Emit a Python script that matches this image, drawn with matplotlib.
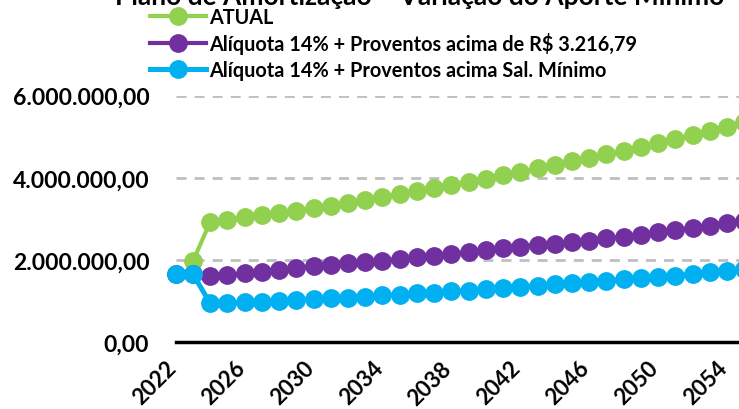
import matplotlib
matplotlib.use("Agg")
import matplotlib.pyplot as plt
from matplotlib.ticker import FuncFormatter, FixedLocator
from matplotlib.transforms import ScaledTranslation

years = list(range(2022, 2056))
tick_years = [2022, 2026, 2030, 2034, 2038, 2042, 2046, 2050, 2054]

atual_years = list(range(2023, 2056))
atual = [1.97, 2.93, 2.98, 3.04, 3.10, 3.14, 3.20, 3.27, 3.32, 3.39,
         3.46, 3.53, 3.60, 3.67, 3.75, 3.82, 3.90, 3.98, 4.06, 4.14,
         4.23, 4.32, 4.40, 4.48, 4.58, 4.66, 4.75, 4.85, 4.94, 5.04,
         5.14, 5.25, 5.36]

aliq_321679 = [1.66, 1.66, 1.62, 1.64, 1.68, 1.72, 1.77, 1.81, 1.85, 1.89,
               1.93, 1.95, 1.99, 2.03, 2.07, 2.11, 2.14, 2.19, 2.24, 2.29,
               2.33, 2.37, 2.39, 2.43, 2.47, 2.53, 2.57, 2.62, 2.68, 2.73,
               2.78, 2.84, 2.90, 2.94]

aliq_salmin = [1.66, 1.66, 0.95, 0.96, 0.97, 0.99, 1.01, 1.04, 1.05, 1.07,
               1.09, 1.11, 1.14, 1.16, 1.19, 1.21, 1.24, 1.26, 1.29, 1.32,
               1.35, 1.38, 1.41, 1.44, 1.47, 1.50, 1.53, 1.56, 1.59, 1.62,
               1.66, 1.70, 1.74, 1.78]

labels = ["ATUAL",
          "Alíquota 14% + Proventos acima de R$ 3.216,79",
          "Alíquota 14% + Proventos acima Sal. Mínimo"]
colors = ["#92D050", "#7030A0", "#00B0F0"]
title = "Plano de Amortização – Variação do Aporte Mínimo"

FONT = "Lato"
plt.rcParams['font.family'] = [FONT, 'DejaVu Sans']

W, H = 739, 410
fig = plt.figure(figsize=(W / 100, H / 100), dpi=100)

x0_px, x_step = 175.7, 17.23
right_px = 760
y0_px, y6_px = 343.3, 96.7
ax = fig.add_axes([x0_px / W, (H - y0_px) / H, (right_px - x0_px) / W, (y0_px - y6_px) / H])
ax.set_xlim(2022, 2022 + (right_px - x0_px) / x_step)
ax.set_ylim(0, 6e6)

ms = 12.5
ax.plot(atual_years, [v * 1e6 for v in atual], color=colors[0], lw=3.0,
        marker='o', ms=ms, mec=colors[0], label=labels[0], clip_on=False, zorder=3)
ax.plot(years, [v * 1e6 for v in aliq_321679], color=colors[1], lw=3.0,
        marker='o', ms=ms, mec=colors[1], label=labels[1], clip_on=False, zorder=4)
ax.plot(years, [v * 1e6 for v in aliq_salmin], color=colors[2], lw=3.6,
        marker='o', ms=ms, mec=colors[2], label=labels[2], clip_on=False, zorder=5)

ax.yaxis.set_major_locator(FixedLocator([0, 2e6, 4e6, 6e6]))
def fmt(v, pos):
    s = f"{v:,.2f}"
    return s.replace(",", "X").replace(".", ",").replace("X", ".")
ax.yaxis.set_major_formatter(FuncFormatter(fmt))
ax.grid(axis='y', color='#BFBFBF', lw=2.0, dashes=(3.6, 2.9))
ax.set_axisbelow(True)
ax.set_xticks(tick_years)
ax.set_xticklabels([str(y) for y in tick_years], rotation=45, ha='right',
                   va='center', rotation_mode='anchor')
ax.tick_params(axis='both', length=0)
ax.tick_params(axis='y', pad=19, labelsize=16.5)
ax.tick_params(axis='x', pad=16, labelsize=16)
off = ScaledTranslation(-3 / 100, 0, fig.dpi_scale_trans)
for lab in ax.get_xticklabels():
    lab.set_fontweight('bold')
    lab.set_transform(lab.get_transform() + off)
for lab in ax.get_yticklabels():
    lab.set_fontweight('bold')

for side in ['top', 'right', 'left']:
    ax.spines[side].set_visible(False)
ax.spines['bottom'].set_linewidth(2.5)
ax.spines['bottom'].set_color('black')
ax.spines['bottom'].set_zorder(2)

fig.text(420 / W, 1 - 5 / H, title, ha='center', va='baseline',
         fontsize=19, fontweight='bold')

leg = fig.legend(loc='upper left', bbox_to_anchor=(150 / W, 1 - 8 / H),
                 frameon=False, borderpad=0, borderaxespad=0,
                 handlelength=2.8, handletextpad=0.2, labelspacing=0.27,
                 prop={'weight': 'bold', 'size': 14.3})

fig.savefig("out.png", dpi=100)
